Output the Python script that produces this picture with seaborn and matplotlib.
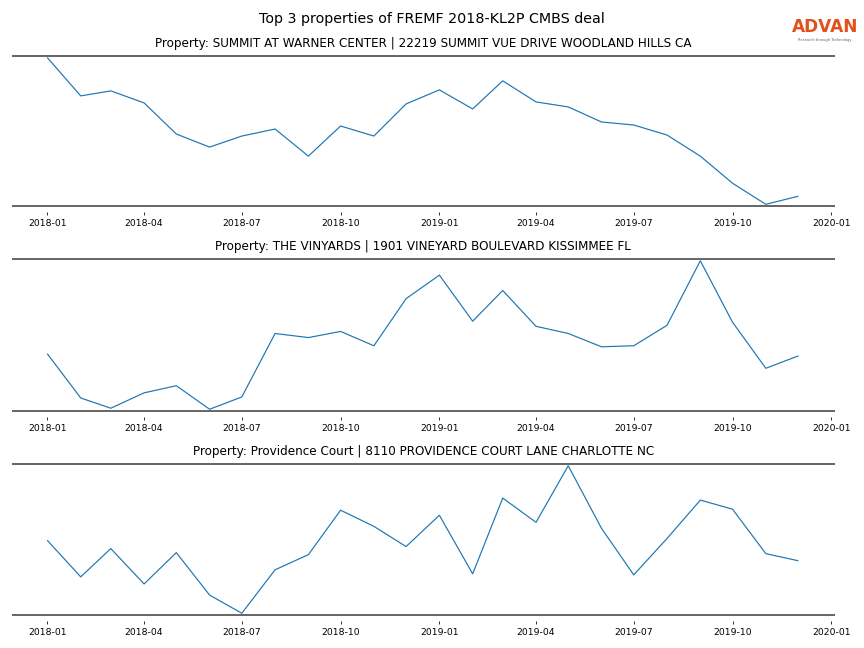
import matplotlib
matplotlib.use("Agg")
import matplotlib.pyplot as plt
import matplotlib.dates as mdates
import pandas as pd
import seaborn as sns

months = pd.date_range("2018-01-01", "2019-12-01", freq="MS")

titles = [
    "Property: SUMMIT AT WARNER CENTER | 22219 SUMMIT VUE DRIVE WOODLAND HILLS CA",
    "Property: THE VINYARDS | 1901 VINEYARD BOULEVARD KISSIMMEE FL",
    "Property: Providence Court | 8110 PROVIDENCE COURT LANE CHARLOTTE NC",
]

summit = [148, 110, 115, 103, 72, 59, 70, 77, 50, 80, 70, 102,
          116, 97, 125, 104, 99, 84, 81, 71, 50, 23, 2, 10]
vinyards = [57, 14, 4, 19, 26, 3, 15, 77, 73, 79, 65, 111,
            134, 89, 119, 84, 77, 64, 65, 85, 148, 88, 43, 55]
providence = [74, 38, 66, 31, 62, 20, 2, 45, 60, 104, 88, 68,
              99, 41, 116, 92, 148, 86, 40, 76, 114, 105, 61, 54]

series = [summit, vinyards, providence]

sns.set_style("white")
fig = plt.figure(figsize=(12, 9), dpi=72)

# axes boxes (left, bottom, width, height) in figure fractions
boxes = [
    (0.0139, 0.682, 0.952, 0.2316),
    (0.0139, 0.3657, 0.952, 0.2346),
    (0.0139, 0.0509, 0.952, 0.2331),
]

for box, title, vals in zip(boxes, titles, series):
    ax = fig.add_axes(box)
    df = pd.DataFrame({"date": months, "value": vals})
    sns.lineplot(data=df, x="date", y="value", ax=ax, color="#1f77b4", linewidth=1.2)
    lo, hi = min(vals), max(vals)
    pad = (hi - lo) * 0.012
    ax.set_ylim(lo - pad, hi + pad)
    ax.set_title(title, fontsize=12, pad=9, color="black")
    ax.set_xlabel("")
    ax.set_ylabel("")
    ax.set_yticks([])
    ax.xaxis.set_major_locator(mdates.MonthLocator(bymonth=[1, 4, 7, 10]))
    ax.xaxis.set_major_formatter(mdates.DateFormatter("%Y-%m"))
    ax.tick_params(axis="x", labelsize=9.2, length=3, width=0.8, colors="black",
                   pad=3.5, bottom=True, direction="out")
    ax.set_xlim(pd.Timestamp("2017-11-29"), pd.Timestamp("2020-01-04"))
    # ticks sit a little below the dark frame line
    ax.spines["bottom"].set_position(("outward", 6))
    for side in ["left", "right", "top", "bottom"]:
        ax.spines[side].set_visible(False)
    for yy in (0, 1):
        ax.plot([0, 1], [yy, yy], transform=ax.transAxes, color="#444444",
                linewidth=1.6, clip_on=False, solid_capstyle="butt")

fig.text(0.5, 0.9707, "Top 3 properties of FREMF 2018-KL2P CMBS deal", fontsize=14.3,
         ha="center", va="center", color="black")

# logo
fig.text(0.9545, 0.945, "ADVAN", color="#E2501E", fontsize=17, ha="center",
         va="bottom", fontweight="semibold")
fig.text(0.9545, 0.939, "Research through Technology", color="#666666", fontsize=3.6,
         ha="center", va="center")

fig.savefig("out.png", dpi=72)
